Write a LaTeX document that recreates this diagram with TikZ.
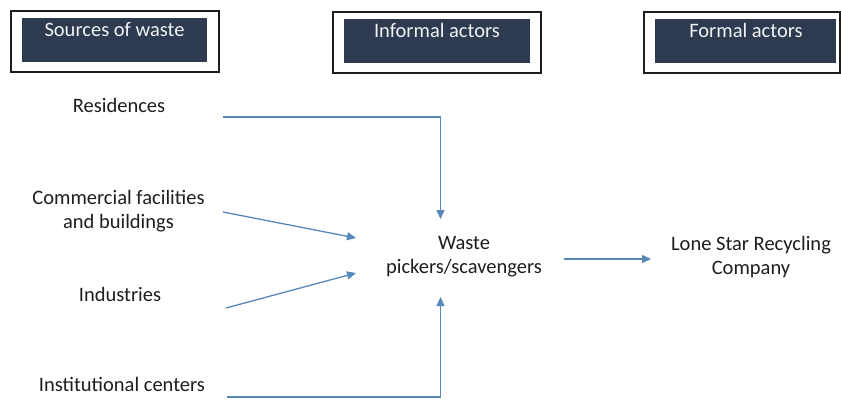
\documentclass[tikz,border=0pt]{standalone}
\usepackage{fontspec}
\setmainfont{Carlito}
\usetikzlibrary{arrows.meta}
\definecolor{headfill}{RGB}{46,58,79}
\definecolor{headtext}{RGB}{240,242,245}
\definecolor{flow}{RGB}{86,136,186}
\definecolor{ink}{RGB}{30,30,30}
\tikzset{
  frame/.style={draw=ink, line width=1.4pt},
  band/.style={fill=headfill, draw=none},
  headlabel/.style={text=headtext, font=\fontsize{20.5}{24}\selectfont, inner sep=0pt, anchor=base},
  label/.style={text=ink, font=\fontsize{20.5}{24}\selectfont, inner sep=0pt, align=center},
  flowline/.style={draw=flow, line width=1.3pt, -{Triangle[length=9pt, width=8pt]}},
}
\begin{document}
\begin{tikzpicture}[x=1pt, y=-1pt]
\useasboundingbox (0,0) rectangle (841,400);
\fill[white] (0,0) rectangle (841,400);

% column headers
\draw[frame] (11,11) rectangle (219,72);
\fill[band] (22,18) rectangle (207,62);
\node[headlabel] (hsrc) at (114.5,36) {Sources of waste};

\draw[frame] (333,12) rectangle (541,73);
\fill[band] (344,19) rectangle (530,63);
\node[headlabel] (hinf) at (437,37) {Informal actors};

\draw[frame] (644,12) rectangle (840,73);
\fill[band] (655,19) rectangle (836,63);
\node[headlabel] (hfor) at (746,37) {Formal actors};

% sources
\node[label, anchor=base] (res) at (119,112) {Residences};
\node[label] (com) at (118.5,211) {Commercial facilities\\and buildings};
\node[label, anchor=base] (ind) at (120,301) {Industries};
\node[label, anchor=base] (ins) at (122,391) {Institutional centers};

% actors
\node[label] (pick) at (464,257) {Waste\\pickers/scavengers};
\node[label] (lone) at (751,257) {Lone Star Recycling\\Company};

% connector end points
\coordinate (resOut) at (223,117);
\coordinate (resIn) at (440.5,219);
\coordinate (comOut) at (223,212);
\coordinate (comIn) at (356,238);
\coordinate (indOut) at (226,308);
\coordinate (indIn) at (356,273);
\coordinate (insOut) at (227,397);
\coordinate (insIn) at (440.5,297);
\coordinate (pickOut) at (564,259);
\coordinate (loneIn) at (651,259);

% flows
\draw[flowline] (resOut) -| (resIn);
\draw[flowline] (comOut) -- (comIn);
\draw[flowline] (indOut) -- (indIn);
\draw[flowline] (insOut) -| (insIn);
\draw[flowline] (pickOut) -- (loneIn);
\end{tikzpicture}
\end{document}
